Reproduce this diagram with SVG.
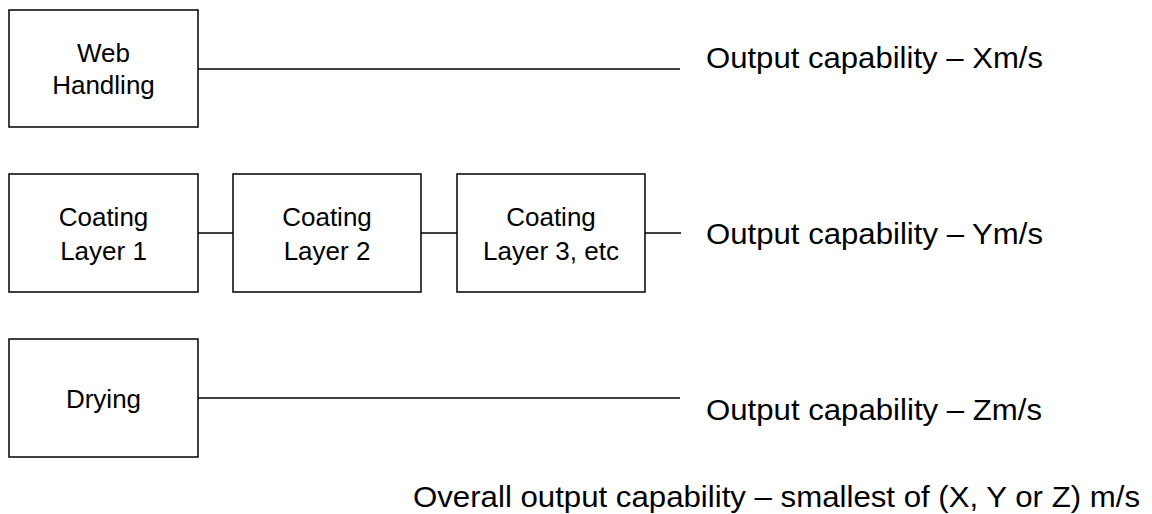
<svg xmlns="http://www.w3.org/2000/svg" width="1152" height="514" viewBox="0 0 1152 514">
<style>
.box{fill:#fff;stroke:#000;stroke-width:1.5}
.lbl{font-family:"Liberation Sans",Arial,sans-serif;font-size:26px;fill:#000;text-anchor:middle}
.out{font-family:"Liberation Sans",Arial,sans-serif;font-size:30px;fill:#000}
.conn{stroke:#000;stroke-width:1.5;fill:none}
</style>
<rect width="1152" height="514" fill="#fff"/>
<g id="connectors">
<line class="conn" x1="198" y1="69" x2="680" y2="69"/>
<line class="conn" x1="198" y1="233" x2="233" y2="233"/>
<line class="conn" x1="421" y1="233" x2="457" y2="233"/>
<line class="conn" x1="645" y1="233" x2="681" y2="233"/>
<line class="conn" x1="198" y1="398" x2="680" y2="398"/>
</g>
<g id="web-handling">
<rect class="box" x="9" y="10" width="189" height="117"/>
<text class="lbl" x="103.5" y="62">Web</text>
<text class="lbl" x="103.5" y="94">Handling</text>
</g>
<g id="coating-1">
<rect class="box" x="9" y="174" width="189" height="118"/>
<text class="lbl" x="103.5" y="226">Coating</text>
<text class="lbl" x="103.5" y="260">Layer 1</text>
</g>
<g id="coating-2">
<rect class="box" x="233" y="174" width="188" height="118"/>
<text class="lbl" x="327" y="226">Coating</text>
<text class="lbl" x="327" y="260">Layer 2</text>
</g>
<g id="coating-3">
<rect class="box" x="457" y="174" width="188" height="118"/>
<text class="lbl" x="551" y="226">Coating</text>
<text class="lbl" x="551" y="260">Layer 3, etc</text>
</g>
<g id="drying">
<rect class="box" x="9" y="339" width="189" height="118"/>
<text class="lbl" x="103.5" y="408">Drying</text>
</g>
<g id="outputs">
<text class="out" x="706" y="68" textLength="337" lengthAdjust="spacingAndGlyphs">Output capability – Xm/s</text>
<text class="out" x="706" y="244" textLength="337" lengthAdjust="spacingAndGlyphs">Output capability – Ym/s</text>
<text class="out" x="706" y="420" textLength="336" lengthAdjust="spacingAndGlyphs">Output capability – Zm/s</text>
<text class="out" x="413" y="507" textLength="727" lengthAdjust="spacingAndGlyphs">Overall output capability – smallest of (X, Y or Z) m/s</text>
</g>
</svg>
